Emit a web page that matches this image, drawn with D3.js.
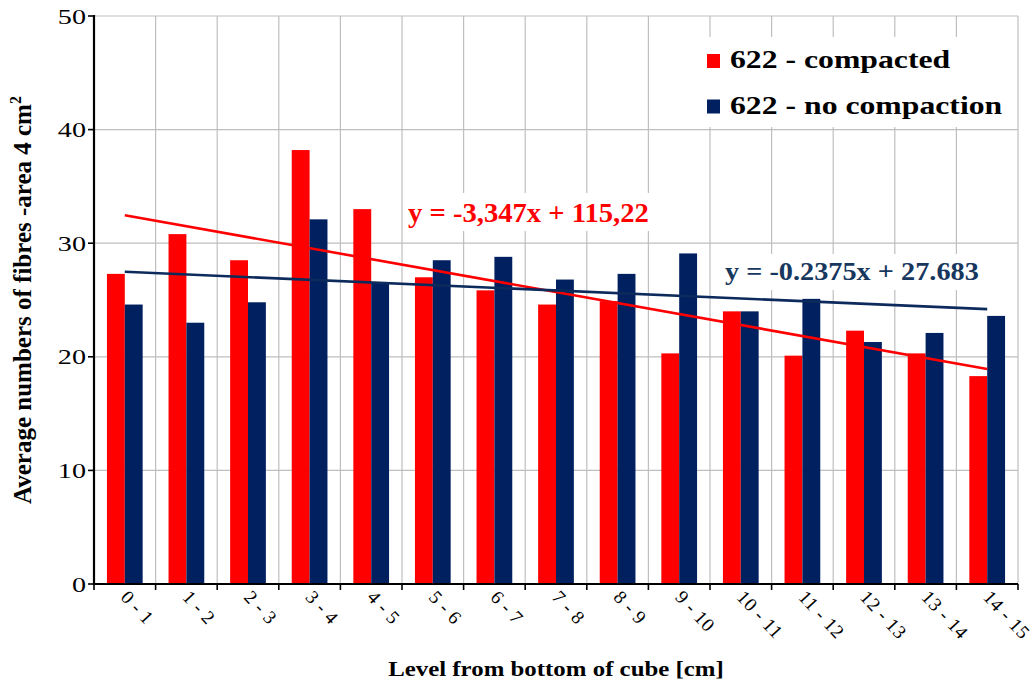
<!DOCTYPE html>
<html>
<head>
<meta charset="utf-8">
<script src="https://cdn.jsdelivr.net/npm/d3@7/dist/d3.min.js"></script>
<style>
  body { margin: 0; background: #fff; }
  text { font-family: "Liberation Serif", "Times New Roman", serif; }
</style>
</head>
<body>
<div id="chart"></div>
<script>
// values
const categories = ["0 - 1", "1 - 2", "2 - 3", "3 - 4", "4 - 5", "5 - 6", "6 - 7", "7 - 8",
                    "8 - 9", "9 - 10", "10 - 11", "11 - 12", "12 - 13", "13 - 14", "14 - 15"];
const compacted    = [27.3, 30.8, 28.5, 38.2, 33.0, 27.0, 25.85, 24.6, 24.9, 20.3, 24.0, 20.1, 22.3, 20.3, 18.3];
const noCompaction = [24.6, 23.0, 24.8, 32.1, 26.5, 28.5, 28.8, 26.8, 27.3, 29.1, 24.0, 25.1, 21.3, 22.1, 23.6];
const seriesNames  = ["622 - compacted", "622 - no compaction"];
const equations    = ["y = -3,347x + 115,22", "y = -0.2375x + 27.683"];
const yTicks       = [0, 10, 20, 30, 40, 50];

const colors = ["#ff0000", "#002060"];
const width = 1034, height = 685;
const plotLeft = 94, plotRight = 1018, plotTop = 16, plotBottom = 584;

const svg = d3.select("#chart").append("svg")
    .attr("width", width)
    .attr("height", height);

const x0 = d3.scaleBand().domain(categories).range([plotLeft, plotRight])
    .paddingInner(0.42).paddingOuter(0.21);
const x1 = d3.scaleBand().domain([0, 1]).range([0, x0.bandwidth()]);
const y = d3.scaleLinear().domain([0, 50]).range([plotBottom, plotTop]);

const boundaries = d3.range(categories.length + 1).map(i => plotLeft + i * x0.step());

// gridlines
const grid = svg.append("g").attr("stroke", "#bfbfbf").attr("stroke-width", 1.2);
grid.selectAll("line.h").data(yTicks.slice(1)).join("line").attr("class", "h")
    .attr("x1", plotLeft).attr("x2", plotRight)
    .attr("y1", d => y(d)).attr("y2", d => y(d));
grid.selectAll("line.v").data(boundaries.slice(1)).join("line").attr("class", "v")
    .attr("x1", d => d).attr("x2", d => d)
    .attr("y1", plotTop).attr("y2", plotBottom);

// white boxes behind legend and equation labels
svg.append("rect").attr("x", 698).attr("y", 37).attr("width", 319).attr("height", 90).attr("fill", "#fff");
svg.append("rect").attr("x", 404).attr("y", 193).attr("width", 250).attr("height", 38).attr("fill", "#fff");
svg.append("rect").attr("x", 716).attr("y", 254).attr("width", 272).attr("height", 36).attr("fill", "#fff");

// bars
const series = [compacted, noCompaction];
const groups = svg.append("g").selectAll("g")
    .data(categories)
    .join("g")
    .attr("transform", d => `translate(${x0(d)},0)`);
groups.selectAll("rect")
    .data((d, i) => series.map((s, k) => ({k, v: s[i]})))
    .join("rect")
    .attr("x", d => x1(d.k))
    .attr("width", x1.bandwidth())
    .attr("y", d => y(d.v))
    .attr("height", d => y(0) - y(d.v))
    .attr("fill", d => colors[d.k]);

// linear trend lines (least squares over category index)
function fit(vals) {
    const xs = vals.map((v, i) => i + 1);
    const mx = d3.mean(xs), my = d3.mean(vals);
    const b = d3.sum(xs, (xv, i) => (xv - mx) * (vals[i] - my)) / d3.sum(xs, xv => (xv - mx) ** 2);
    return xv => my + b * (xv - mx);
}
const center = c => x0(c) + x0.bandwidth() / 2;
series.forEach((s, k) => {
    const f = fit(s);
    const ends = [categories[0], categories[categories.length - 1]];
    svg.append("line")
        .attr("x1", center(ends[0])).attr("y1", y(f(1)))
        .attr("x2", center(ends[1])).attr("y2", y(f(categories.length)))
        .attr("stroke", k === 0 ? "#ff0000" : "#0d2a5c")
        .attr("stroke-width", 2.6);
});

// axes
svg.append("line").attr("x1", plotLeft).attr("x2", plotLeft).attr("y1", plotTop - 1).attr("y2", plotBottom + 1)
    .attr("stroke", "#000").attr("stroke-width", 2.2);
svg.append("line").attr("x1", plotLeft).attr("x2", plotRight).attr("y1", plotBottom).attr("y2", plotBottom)
    .attr("stroke", "#000").attr("stroke-width", 2.2);
svg.selectAll("line.ytick").data(yTicks).join("line").attr("class", "ytick")
    .attr("x1", plotLeft - 6).attr("x2", plotLeft)
    .attr("y1", d => y(d)).attr("y2", d => y(d))
    .attr("stroke", "#000").attr("stroke-width", 1.6);
svg.selectAll("line.xtick").data(boundaries).join("line").attr("class", "xtick")
    .attr("x1", d => d).attr("x2", d => d)
    .attr("y1", plotBottom).attr("y2", plotBottom + 6)
    .attr("stroke", "#000").attr("stroke-width", 1.6);

// helper: horizontally stretched text
function stretched(x, yy, sx, str) {
    return svg.append("g")
        .attr("transform", `translate(${x},${yy}) scale(${sx},1)`)
        .append("text").text(str);
}

yTicks.forEach(t => {
    stretched(86, y(t) + 7.5, 1.28, t)
        .attr("text-anchor", "end").attr("font-size", 22).attr("fill", "#000");
});

svg.selectAll("text.xlab").data(categories).join("text").attr("class", "xlab")
    .attr("transform", d => `translate(${center(d) - 5},${plotBottom + 14}) rotate(47)`)
    .attr("font-size", 19)
    .attr("letter-spacing", 0.6)
    .text(d => d);

// axis titles
stretched(556, 676, 1.13, "Level from bottom of cube [cm]")
    .attr("text-anchor", "middle").attr("font-size", 22).attr("font-weight", "bold");

const yt = svg.append("text")
    .attr("transform", `translate(31,300) rotate(-90)`)
    .attr("text-anchor", "middle")
    .attr("font-size", 25).attr("font-weight", "bold");
yt.append("tspan").text("Average numbers of fibres -area 4 cm");
yt.append("tspan").attr("font-size", 16).attr("dy", -10).text("2");

// legend
seriesNames.forEach((name, k) => {
    const base = 68 + k * 45.5;
    svg.append("rect").attr("x", 707).attr("y", base - 14).attr("width", 13).attr("height", 14)
        .attr("fill", colors[k]);
    stretched(730, base, 1.22, name).attr("font-size", 26).attr("font-weight", "bold");
});

// equation labels
stretched(408, 222, 1.06, equations[0])
    .attr("font-size", 27).attr("font-weight", "bold").attr("fill", "#ff0000");
stretched(725, 280, 1.11, equations[1])
    .attr("font-size", 25.5).attr("font-weight", "bold").attr("fill", "#17375e");
</script>
</body>
</html>
